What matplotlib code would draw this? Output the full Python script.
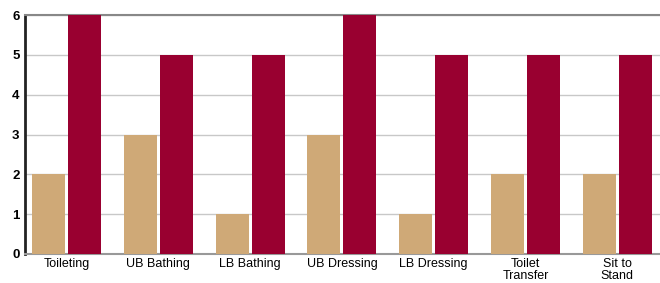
import numpy as np
import matplotlib
matplotlib.use("Agg")
import matplotlib.pyplot as plt

plt.rcParams['font.family'] = ['Liberation Sans', 'DejaVu Sans']

categories = ["Toileting", "UB Bathing", "LB Bathing", "UB Dressing",
              "LB Dressing", "Toilet\nTransfer", "Sit to\nStand"]
series_a = [2, 3, 1, 3, 1, 2, 2]
series_b = [6, 5, 5, 6, 5, 5, 5]

fig = plt.figure(figsize=(6.6, 2.83), dpi=100)
ax = fig.add_axes([25/660, 29/283, 635/660, 239/283])

x = np.arange(len(categories))
w = 0.36
ax.bar(x - 0.196, series_a, w, color='#CFA977', zorder=3)
ax.bar(x + 0.196, series_b, w, color='#990030', zorder=3)

ax.set_xlim(-0.452, 6.465)
ax.set_ylim(0, 6)
ax.set_yticks(range(7))
ax.yaxis.grid(True, color='#c8c8c8', linewidth=1, zorder=0)
ax.set_xticks(x)
ax.set_xticklabels(categories, fontsize=9, linespacing=0.95)
ax.tick_params(axis='x', length=0, pad=3)
ax.tick_params(axis='y', length=0, pad=4, labelsize=9.5)
for lab in ax.get_yticklabels():
    lab.set_fontweight('bold')

ax.spines['left'].set_color('#222222')
ax.spines['left'].set_linewidth(2)
ax.spines['bottom'].set_color('#999999')
ax.spines['bottom'].set_linewidth(1.5)
ax.spines['top'].set_color('#888888')
ax.spines['top'].set_linewidth(1.5)
ax.spines['right'].set_visible(False)

fig.savefig("out.png", dpi=100)
